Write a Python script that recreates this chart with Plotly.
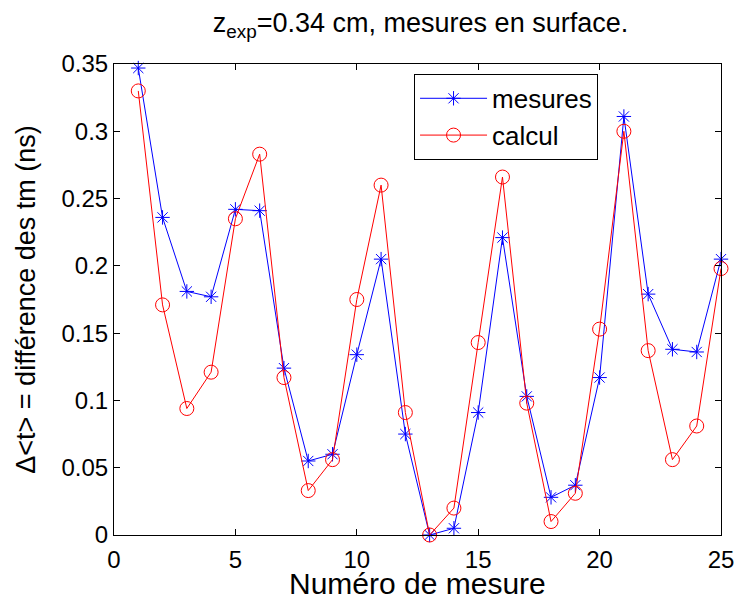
import plotly.graph_objects as go

numero = list(range(1, 26))
mesures = [0.347, 0.236, 0.181, 0.177, 0.242, 0.241, 0.124, 0.055, 0.060, 0.134,
           0.205, 0.075, 0.0, 0.005, 0.091, 0.221, 0.103, 0.028, 0.037, 0.117,
           0.311, 0.179, 0.138, 0.136, 0.205]
calcul = [0.330, 0.171, 0.094, 0.121, 0.235, 0.283, 0.117, 0.033, 0.056, 0.175,
          0.260, 0.091, 0.0, 0.020, 0.143, 0.266, 0.098, 0.010, 0.031, 0.153,
          0.300, 0.137, 0.056, 0.081, 0.198]
x_ticks = [0, 5, 10, 15, 20, 25]
y_ticks = [0, 0.05, 0.1, 0.15, 0.2, 0.25, 0.3, 0.35]
y_tick_labels = ["0", "0.05", "0.1", "0.15", "0.2", "0.25", "0.3", "0.35"]

FONT = "Liberation Sans, Arial, Helvetica, sans-serif"

# page has an 8px body margin: figure occupies page (8..746, 8..600)
W, H = 738, 592
ML, MR, MT, MB = 106, 19, 56, 65
plot_h = H - MT - MB

fig = go.Figure()
fig.add_trace(go.Scatter(
    x=numero, y=mesures, name="mesures", mode="lines+markers",
    line=dict(color="#0000ff", width=1),
    marker=dict(symbol="asterisk-open", size=12, color="#0000ff",
                line=dict(color="#0000ff", width=1)),
    cliponaxis=False,
))
fig.add_trace(go.Scatter(
    x=numero, y=calcul, name="calcul", mode="lines+markers",
    line=dict(color="#ff0000", width=1),
    marker=dict(symbol="circle-open", size=14, color="#ff0000",
                line=dict(color="#ff0000", width=1)),
    cliponaxis=False,
))

axis_common = dict(
    showline=True, linecolor="black", linewidth=1, mirror="ticks",
    ticks="inside", ticklen=6, tickcolor="black", tickwidth=1,
    showgrid=False, zeroline=False,
    tickfont=dict(family=FONT, size=24, color="black"),
)

fig.update_layout(
    width=W, height=H,
    paper_bgcolor="white", plot_bgcolor="white",
    margin=dict(l=ML, r=MR, t=MT, b=MB),
    font=dict(family=FONT, color="black"),
    title=dict(text="z<sub>exp</sub>=0.34 cm, mesures en surface.",
               x=412.5 / W, xanchor="center", xref="container",
               y=1 - 15 / H, yref="container", yanchor="middle",
               font=dict(family=FONT, size=27, color="black")),
    xaxis=dict(range=[0, 25], tickvals=x_ticks, ticklabelstandoff=3,
               **axis_common),
    yaxis=dict(range=[0, 0.35], tickvals=y_ticks, ticktext=y_tick_labels,
               title=dict(text="Δ&lt;t&gt; = différence des tm (ns)", standoff=18,
                          font=dict(family=FONT, size=27, color="black")),
               **axis_common),
    legend=dict(x=(417 - 114) / (W - ML - MR), y=0.979, xanchor="left", yanchor="top",
                bordercolor="black", borderwidth=1, bgcolor="white",
                font=dict(family=FONT, size=26, color="black"),
                itemwidth=67, tracegroupgap=0),
    showlegend=True,
    annotations=[dict(text="Numéro de mesure", xref="paper", yref="paper",
                      x=0.5, y=-(575.5 - (H - MB)) / plot_h, xanchor="center",
                      yanchor="middle", showarrow=False,
                      font=dict(family=FONT, size=30, color="black"))],
)

fig.write_html("out.html")
